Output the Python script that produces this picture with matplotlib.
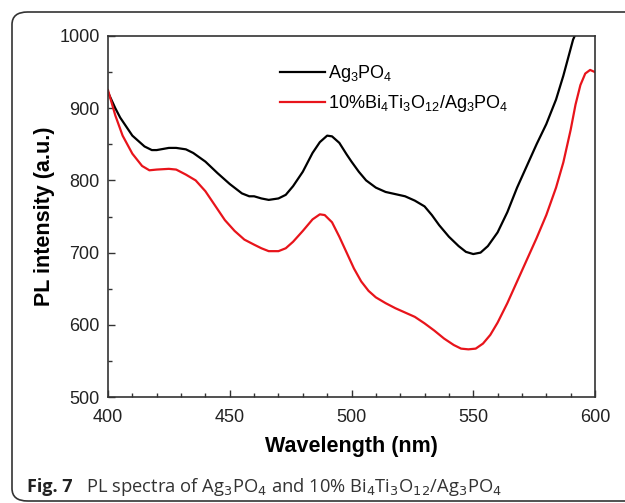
import matplotlib
matplotlib.use("Agg")
import matplotlib.pyplot as plt
from matplotlib.patches import FancyBboxPatch
from matplotlib.ticker import MultipleLocator

# Ag3PO4 (black)
wl_ag = [400, 403, 405, 410, 415, 418, 420, 425, 428, 432, 435, 440, 445, 450, 455,
         458, 460, 463, 466, 470, 473, 476, 480, 484, 487, 490, 492, 495, 498, 500,
         503, 506, 510, 514, 518, 522, 526, 530, 533, 536, 540, 544, 547, 550, 553,
         556, 560, 564, 568, 572, 576, 580, 584, 587, 589, 591, 593]
pl_ag = [922, 900, 887, 862, 847, 842, 842, 845, 845, 843, 838, 826, 810, 795, 782,
         778, 778, 775, 773, 775, 780, 792, 812, 838, 853, 862, 861, 852, 836, 826,
         812, 800, 790, 784, 781, 778, 772, 764, 752, 738, 722, 709, 701, 698, 700,
         709, 728, 756, 790, 820, 850, 878, 912, 945, 970, 995, 1010]

# 10% Bi4Ti3O12/Ag3PO4 (red)
wl_bt = [400, 403, 406, 410, 414, 417, 420, 425, 428, 432, 436, 440, 444, 448, 452,
         456, 460, 463, 466, 470, 473, 476, 480, 484, 487, 489, 492, 495, 498, 501,
         504, 507, 510, 514, 518, 522, 526, 530, 534, 538, 542, 545, 548, 551, 554,
         557, 560, 564, 568, 572, 576, 580, 584, 587, 590, 592, 594, 596, 598, 600]
pl_bt = [925, 890, 862, 837, 820, 814, 815, 816, 815, 808, 800, 785, 765, 745, 730,
         718, 711, 706, 702, 702, 706, 715, 730, 746, 753, 752, 742, 722, 700, 678,
         660, 647, 638, 630, 623, 617, 611, 602, 592, 581, 572, 567, 566, 567, 574,
         586, 603, 630, 660, 690, 720, 752, 790, 825, 870, 905, 932, 948, 953, 950]

labels = [r"Ag$_3$PO$_4$", r"10%Bi$_4$Ti$_3$O$_{12}$/Ag$_3$PO$_4$"]
xticks = [400, 450, 500, 550, 600]
yticks = [500, 600, 700, 800, 900, 1000]

plt.rcParams['font.family'] = ['Liberation Sans', 'DejaVu Sans']
plt.rcParams['mathtext.fontset'] = 'custom'
plt.rcParams['mathtext.rm'] = 'Liberation Sans'
plt.rcParams['mathtext.it'] = 'Liberation Sans'

fig = plt.figure(figsize=(6.25, 5.03), dpi=100)
ax = fig.add_axes([108/625, 1-397/503, (595-108)/625, (397-36)/503])

ax.plot(wl_ag, pl_ag, color='black', lw=1.6, label=labels[0])
ax.plot(wl_bt, pl_bt, color='#e8141b', lw=1.6, label=labels[1])

ax.set_xlim(400, 600)
ax.set_ylim(500, 1000)
ax.set_xticks(xticks)
ax.set_yticks(yticks)
ax.xaxis.set_minor_locator(MultipleLocator(10))
ax.yaxis.set_minor_locator(MultipleLocator(50))
ax.tick_params(which='both', direction='in', top=False, right=False,
               labelsize=13, color='#333333', labelcolor='#222222')
ax.tick_params(axis='x', which='major', pad=9)
ax.tick_params(axis='y', which='major', pad=6)
ax.tick_params(which='major', length=5, width=1)
ax.tick_params(which='minor', length=3, width=1)
for s in ax.spines.values():
    s.set_color('#333333')
    s.set_linewidth(1.2)

ax.set_xlabel("Wavelength (nm)", fontsize=15.5, fontweight='bold', labelpad=7)
ax.set_ylabel("PL intensity (a.u.)", fontsize=15.5, fontweight='bold', labelpad=3)

leg = ax.legend(loc='upper left', bbox_to_anchor=(0.32, 0.97), frameon=False,
                fontsize=13, handlelength=2.5, handletextpad=0.15, labelspacing=0.5)

# outer rounded frame
frame = FancyBboxPatch((12/625, 2/503), 700/625, 489/503,
                       boxstyle="round,pad=0,rounding_size=0.025",
                       transform=fig.transFigure, fill=False,
                       edgecolor='#333333', lw=1.2, clip_on=False)
fig.patches.append(frame)

fig.text(27/625, 1-487/503, "Fig. 7", fontsize=13, fontweight='bold',
         family='Open Sans', va='center', ha='left', color='#222222')
fig.text(86/625, 1-487/503,
         r"PL spectra of Ag$_3$PO$_4$ and 10% Bi$_4$Ti$_3$O$_{12}$/Ag$_3$PO$_4$",
         fontsize=13.2, family='Open Sans', va='center', ha='left', color='#333333',
         math_fontfamily='dejavusans')

fig.savefig("out.png", dpi=100)
